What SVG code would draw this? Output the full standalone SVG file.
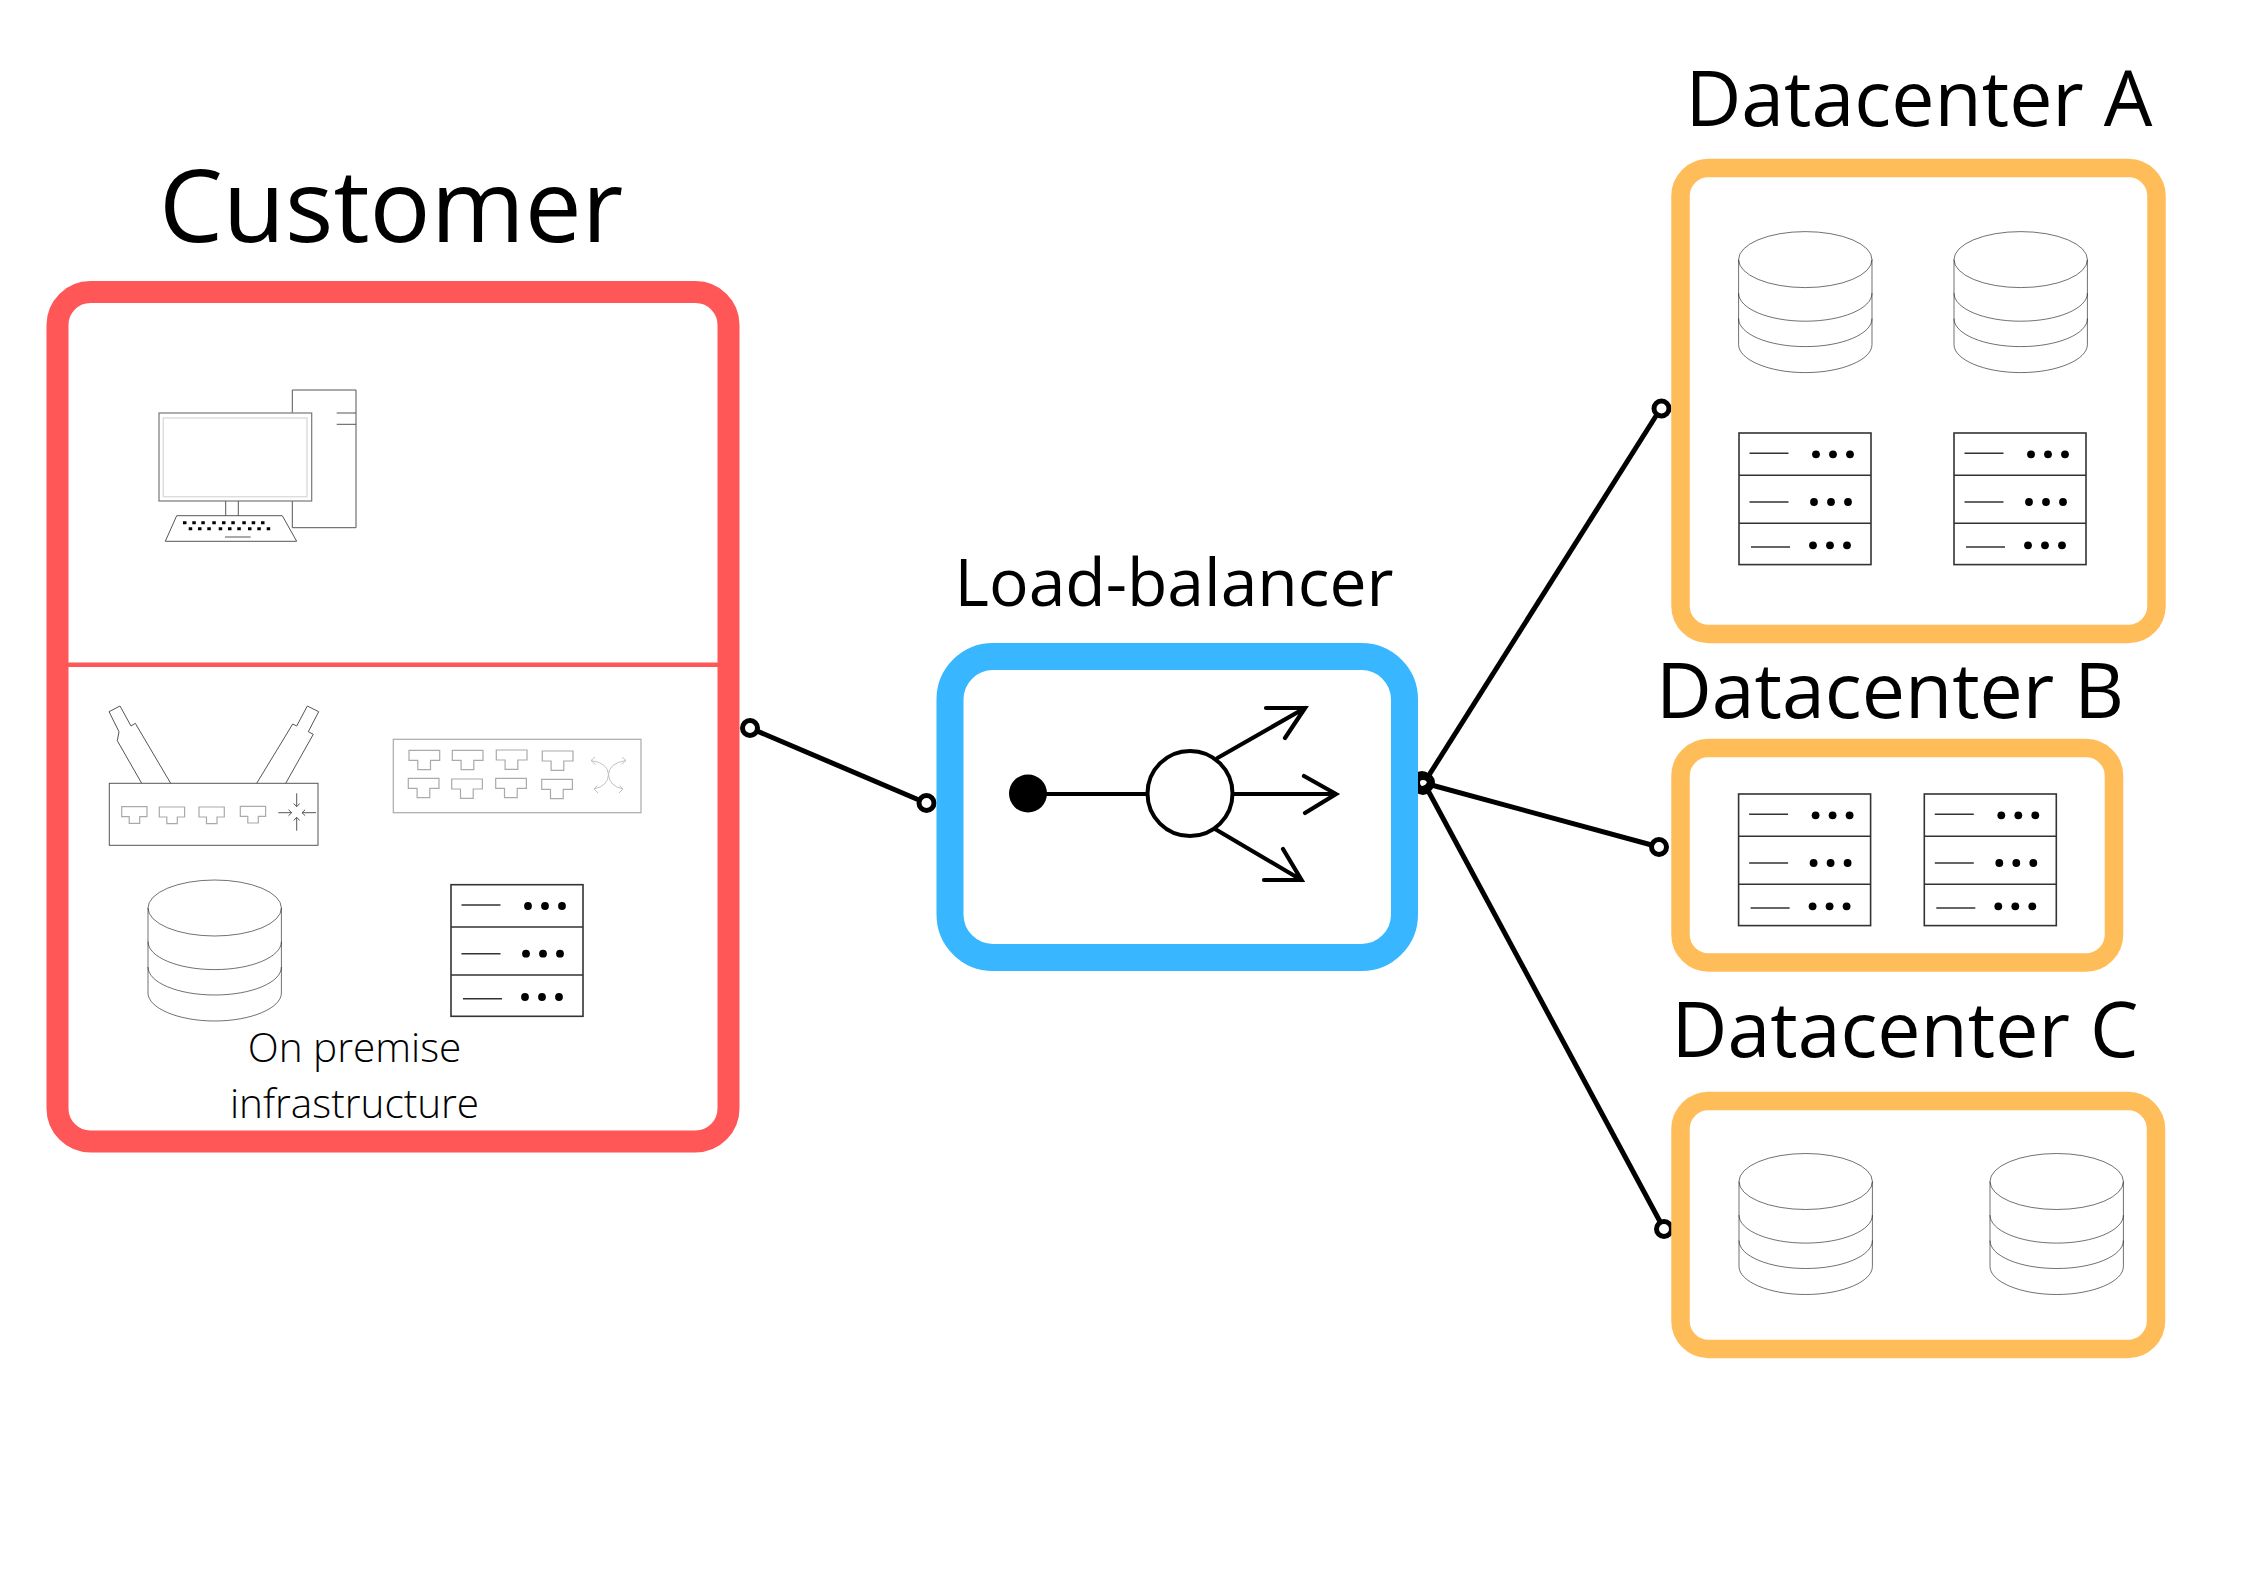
<svg xmlns="http://www.w3.org/2000/svg" width="2245" height="1587" viewBox="0 0 2245 1587">
<style>
text{font-family:"Open Sans","Noto Sans","DejaVu Sans",sans-serif;fill:#000}
.frame{fill:#fff}
.red{stroke:#ff5757;stroke-width:22}
.blue{stroke:#38b6ff;stroke-width:27}
.orange{stroke:#ffbd59;stroke-width:18.5}
.conn{stroke:#000;stroke-width:5;fill:none}
.pin{stroke:#000;stroke-width:5;fill:#fff}
.hub{stroke:#000;stroke-width:5;fill:none}
.lb{stroke:#000;stroke-width:4.2;fill:none;stroke-linecap:round;stroke-linejoin:miter}
.thin{fill:none;stroke:#555;stroke-width:1}
.pale{fill:none;stroke:#aaa;stroke-width:1.2}
.paler{fill:none;stroke:#ddd;stroke-width:1.5}
.db{fill:none;stroke:#111;stroke-width:.6}
.srv{fill:#fff;stroke:#333;stroke-width:1.6}
.srvl{stroke:#333;stroke-width:1.4;fill:none}
</style>
<defs>
<g id="database">
<path class="db" d="M0 28V113C0 128 30 141 66.7 141S133.4 128 133.4 113V28"/>
<path class="db" d="M0 61.6C0 77 30 89.6 66.7 89.6S133.4 77 133.4 61.6"/>
<path class="db" d="M0 87C0 102.500 30 115 66.700 115S133.400 102.500 133.400 87"/>
<ellipse class="db" cx="66.700" cy="28" rx="66.700" ry="28"/>
</g>
<g id="server">
<rect class="srv" x="0" y="0" width="132" height="131.600"/>
<path class="srvl" d="M0 42.300H132M0 90.300H132M10.500 20.300H49.500M10.500 69H49.500M12 114H51"/>
<circle cx="77" cy="21.300" r="3.900"/><circle cx="94" cy="21.300" r="3.900"/><circle cx="111" cy="21.300" r="3.900"/>
<circle cx="75" cy="69" r="3.900"/><circle cx="92" cy="69" r="3.900"/><circle cx="109" cy="69" r="3.900"/>
<circle cx="74" cy="112.300" r="3.900"/><circle cx="91" cy="112.300" r="3.900"/><circle cx="108" cy="112.300" r="3.900"/>
</g>
<path id="port-s" class="pale" d="M0 0H25.300V10H18V16.700H7.500V10H0Z"/>
<path id="port-l" class="pale" d="M0 0H30.700V10H21.500V19.300H8.800V10H0Z"/>
</defs>
<rect width="2245" height="1587" fill="#fff"/>

<g id="connectors">
<line class="conn" x1="750" y1="728" x2="926" y2="803"/>
<line class="conn" x1="1424" y1="783" x2="1661" y2="408"/>
<line class="conn" x1="1424" y1="783" x2="1659" y2="847"/>
<line class="conn" x1="1424" y1="783" x2="1664" y2="1229"/>
<circle class="pin" cx="750" cy="728" r="7.500"/>
<circle class="pin" cx="926.500" cy="803" r="7.500"/>
<circle cx="1424" cy="783" r="4" fill="#fff"/>
<circle class="hub" cx="1422" cy="781" r="7.500"/>
<circle class="hub" cx="1425" cy="782.500" r="7.500"/>
<circle class="hub" cx="1423" cy="785" r="7.500"/>
<circle class="pin" cx="1661.500" cy="408.500" r="7.500"/>
<circle class="pin" cx="1659" cy="847" r="7.500"/>
<circle class="pin" cx="1664" cy="1229" r="7.500"/>
</g>

<g id="customer">
<text x="391" y="242" font-size="101.500" text-anchor="middle">Customer</text>
<rect class="frame red" x="57.500" y="292" width="671" height="849.500" rx="33" ry="33"/>
<rect x="57" y="662.500" width="672" height="4.500" fill="#ff5757"/>
<g id="computer">
<path class="thin" d="M292.300 412.700V390H356V527.700H292.300V501M336.700 413H356M336.700 424.300H356"/>
<rect class="pale" x="159" y="413" width="152.700" height="88" style="stroke:#777"/>
<rect class="paler" x="163.300" y="418" width="143.700" height="78.700"/>
<path class="thin" d="M225.700 501V515.700M238.300 501V515.700M176.700 515.700H282.300L296.700 541.300H165.300Z"/>
<path d="M183 522.700h3.500M192.300 522.700h3.500M201.300 522.700h3.500M212.300 522.700h3.500M222 522.700h3.500M231.300 522.700h3.500M242.300 522.700h3.500M251.700 522.700h3.500M261 522.700h3.500M188.700 528.700h3.500M198 528.700h3.500M207.300 528.700h3.500M218.700 528.700h3.500M228 528.700h3.500M237.300 528.700h3.500M248 528.700h3.500M257.300 528.700h3.500M266.700 528.700h3.500" stroke="#000" stroke-width="3" fill="none"/>
<path class="thin" d="M225 537H250.700"/>
</g>
<g id="router">
<rect class="thin" x="109.300" y="783.300" width="208.700" height="62"/>
<path class="thin" d="M141.700 783.300L117.300 740.700L119 731.700L109 711.700L120 706L131 726L135.300 723.300L170.700 783.300"/>
<path class="thin" d="M256.700 783.300L292.700 724L296.700 726L307.300 706L318.700 711.700L308.300 731.700L313.300 734.300L285.700 783.300"/>
<use href="#port-s" x="121.700" y="806.700"/>
<use href="#port-s" x="159.300" y="807"/>
<use href="#port-s" x="199" y="807"/>
<use href="#port-s" x="240.300" y="806.300"/>
<path class="thin" d="M296.700 793.300V806.700M293.700 803.500L296.700 806.700L299.700 803.500M296.700 830.700V817.300M293.700 820.500L296.700 817.300L299.700 820.500M278.300 812.700H291.700M288.500 809.700L291.700 812.700L288.500 815.700M316 812.700H302M305.200 809.700L302 812.700L305.200 815.700"/>
</g>
<g id="switch">
<rect class="pale" x="393.300" y="739.300" width="247.700" height="73.400"/>
<use href="#port-l" x="409" y="750.300"/>
<use href="#port-l" x="452.300" y="750.300"/>
<use href="#port-l" x="496.300" y="750"/>
<use href="#port-l" x="542.300" y="751"/>
<use href="#port-l" x="408.300" y="778.300"/>
<use href="#port-l" x="451.700" y="779"/>
<use href="#port-l" x="495.700" y="778.300"/>
<use href="#port-l" x="541.700" y="779.300"/>
<path class="pale" style="stroke:#bbb;stroke-width:.9" d="M591 760.500Q608 763 608.500 774.500Q608 786 594 789M626 760.500Q609 763 608.500 774.500Q609 786 623 789M595 757L591 760.500L595.500 764.500M622 757L626 760.500L621.500 764.500M597.500 785.500L594 789L598 793M619.500 785.500L623 789L619 793"/>
</g>
<use id="customer-db" href="#database" x="148" y="880"/>
<use id="customer-server" href="#server" x="451" y="884.700"/>
<text x="354.500" y="1062" font-size="40.500" font-weight="300" text-anchor="middle">On premise</text>
<text x="354.500" y="1118" font-size="40.500" font-weight="300" text-anchor="middle">infrastructure</text>
</g>

<g id="load-balancer">
<text x="1174" y="606" font-size="66" text-anchor="middle">Load-balancer</text>
<rect class="frame blue" x="950" y="656.500" width="454.500" height="301" rx="43" ry="43"/>
<circle cx="1028" cy="793.500" r="19"/>
<path class="lb" d="M1028 794H1150M1217.500 758L1305 708M1266 708H1305L1285 738M1232 794H1336M1304 776L1336 794L1305 813M1215 829L1301.500 880M1264 880H1301.500L1283 849"/>
<circle cx="1190" cy="793.500" r="42.500" fill="#fff" stroke="#000" stroke-width="4"/>
</g>

<g id="datacenter-a">
<text x="1919" y="126" font-size="77" text-anchor="middle">Datacenter A</text>
<rect class="frame orange" x="1680.500" y="168" width="476" height="466" rx="28" ry="28"/>
<use href="#database" x="1738.600" y="231.600"/>
<use href="#database" x="1954" y="231.600"/>
<use href="#server" x="1739" y="433"/>
<use href="#server" x="1954" y="433"/>
</g>

<g id="datacenter-b">
<text x="1890" y="718" font-size="77" text-anchor="middle">Datacenter B</text>
<rect class="frame orange" x="1680.500" y="748" width="433.500" height="214.500" rx="28" ry="28"/>
<use href="#server" x="1738.600" y="794"/>
<use href="#server" x="1924.300" y="794"/>
</g>

<g id="datacenter-c">
<text x="1905" y="1057" font-size="77" text-anchor="middle">Datacenter C</text>
<rect class="frame orange" x="1680.500" y="1101" width="475.500" height="248" rx="28" ry="28"/>
<use href="#database" x="1739" y="1153.500"/>
<use href="#database" x="1990" y="1153.500"/>
</g>
</svg>
